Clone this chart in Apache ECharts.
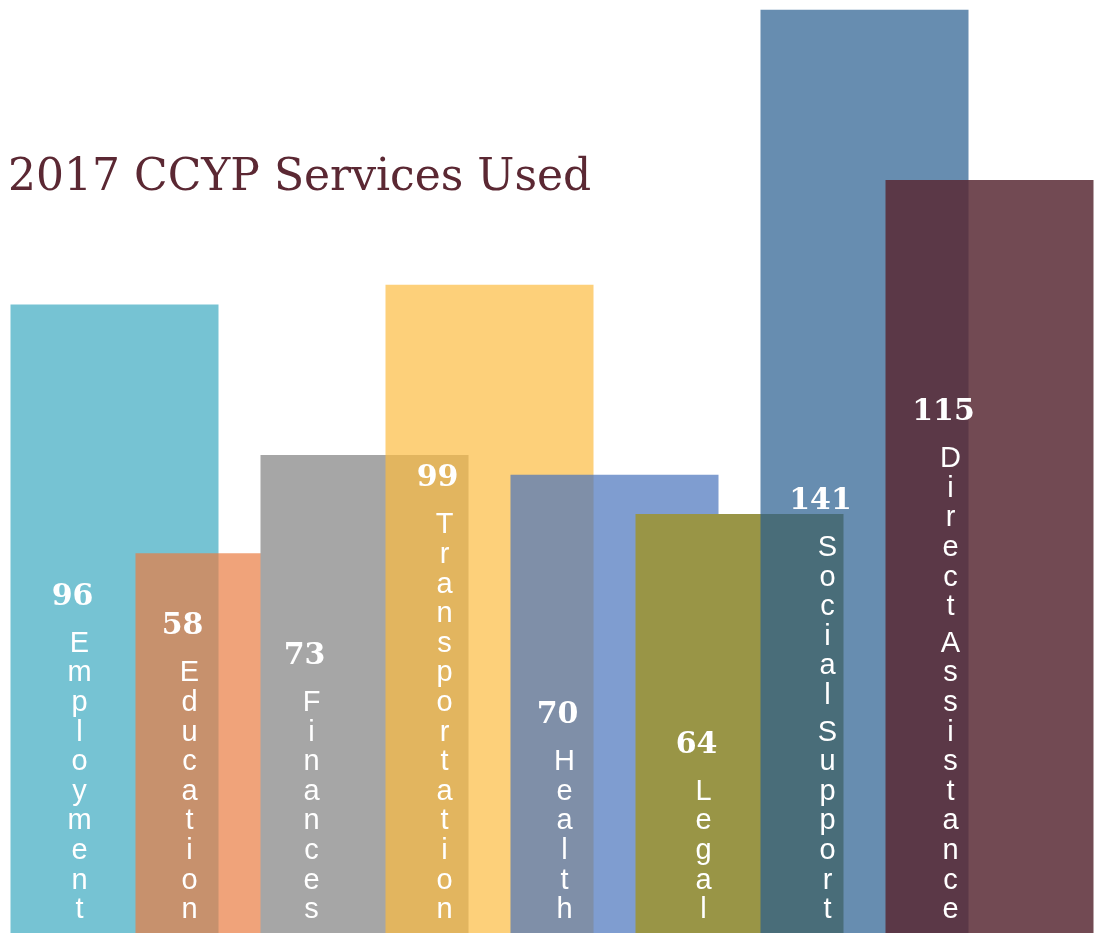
<!DOCTYPE html>
<html>
<head>
<meta charset="utf-8">
<script src="https://cdn.jsdelivr.net/npm/echarts@6/dist/echarts.min.js"></script>
<style>
  html, body { margin: 0; padding: 0; background: #fff; }
  #chart { width: 1101px; height: 933px; }
</style>
</head>
<body>
<div id="chart"></div>
<script>
const categories = ['Employment', 'Education', 'Finances', 'Transportation', 'Health', 'Legal', 'Social Support', 'Direct Assistance']
const values = [96, 58, 73, 99, 70, 64, 141, 115]

// bar colours (r,g,b) + alpha, overlaps blend like the original
const barColors = [[118, 195, 211], [234, 124, 65], [166, 166, 166], [252, 188, 65], [72, 115, 188], [153, 149, 70], [38, 92, 142], [89, 42, 53]]
const barAlpha = [1, 0.7, 1, 0.7, 0.7, 1, 0.7, 0.85]
// label centre, px from the bar's left edge
const labelX = [69, 54, 51, 59, 54, 68, 67, 65]

const buildLabel = (name, value) => {
    const letters = name.split('').map(ch => ch === ' ' ? '{g| }' : `{t|${ch}}`)
    return `{v|${value}}\n` + letters.join('\n')
}

const chart = echarts.init(document.getElementById('chart'))

chart.setOption({
    animation: false,
    title: {
        text: '2017 CCYP Services Used',
        left: 3,
        top: 152,
        textStyle: {
            fontFamily: 'DejaVu Serif',
            fontWeight: 'normal',
            fontSize: 44,
            color: '#5b2833'
        }
    },
    grid: { left: 52, right: 49, top: 0, bottom: 0 },
    xAxis: {
        type: 'category',
        data: categories,
        show: false
    },
    yAxis: {
        type: 'value',
        min: 0,
        max: 142.5,
        show: false
    },
    series: [{
        type: 'bar',
        barWidth: 208,
        clip: false,
        emphasis: { disabled: true },
        data: values.map((v, i) => ({
            value: v,
            itemStyle: { color: `rgba(${barColors[i].join(',')},${barAlpha[i]})` },
            label: {
                show: true,
                position: [labelX[i], '100%'],
                offset: [0, -8],
                align: 'center',
                verticalAlign: 'bottom',
                formatter: buildLabel(categories[i], v),
                rich: {
                    v: {
                        fontFamily: 'DejaVu Serif',
                        fontWeight: 'bold',
                        fontSize: 30,
                        color: '#fff',
                        lineHeight: 64,
                        padding: [0, 14, 0, 0]
                    },
                    t: {
                        fontFamily: 'Liberation Sans',
                        fontSize: 29,
                        color: '#fff',
                        lineHeight: 29.6
                    },
                    g: {
                        fontSize: 6,
                        lineHeight: 7
                    }
                }
            }
        }))
    }]
})
</script>
</body>
</html>
